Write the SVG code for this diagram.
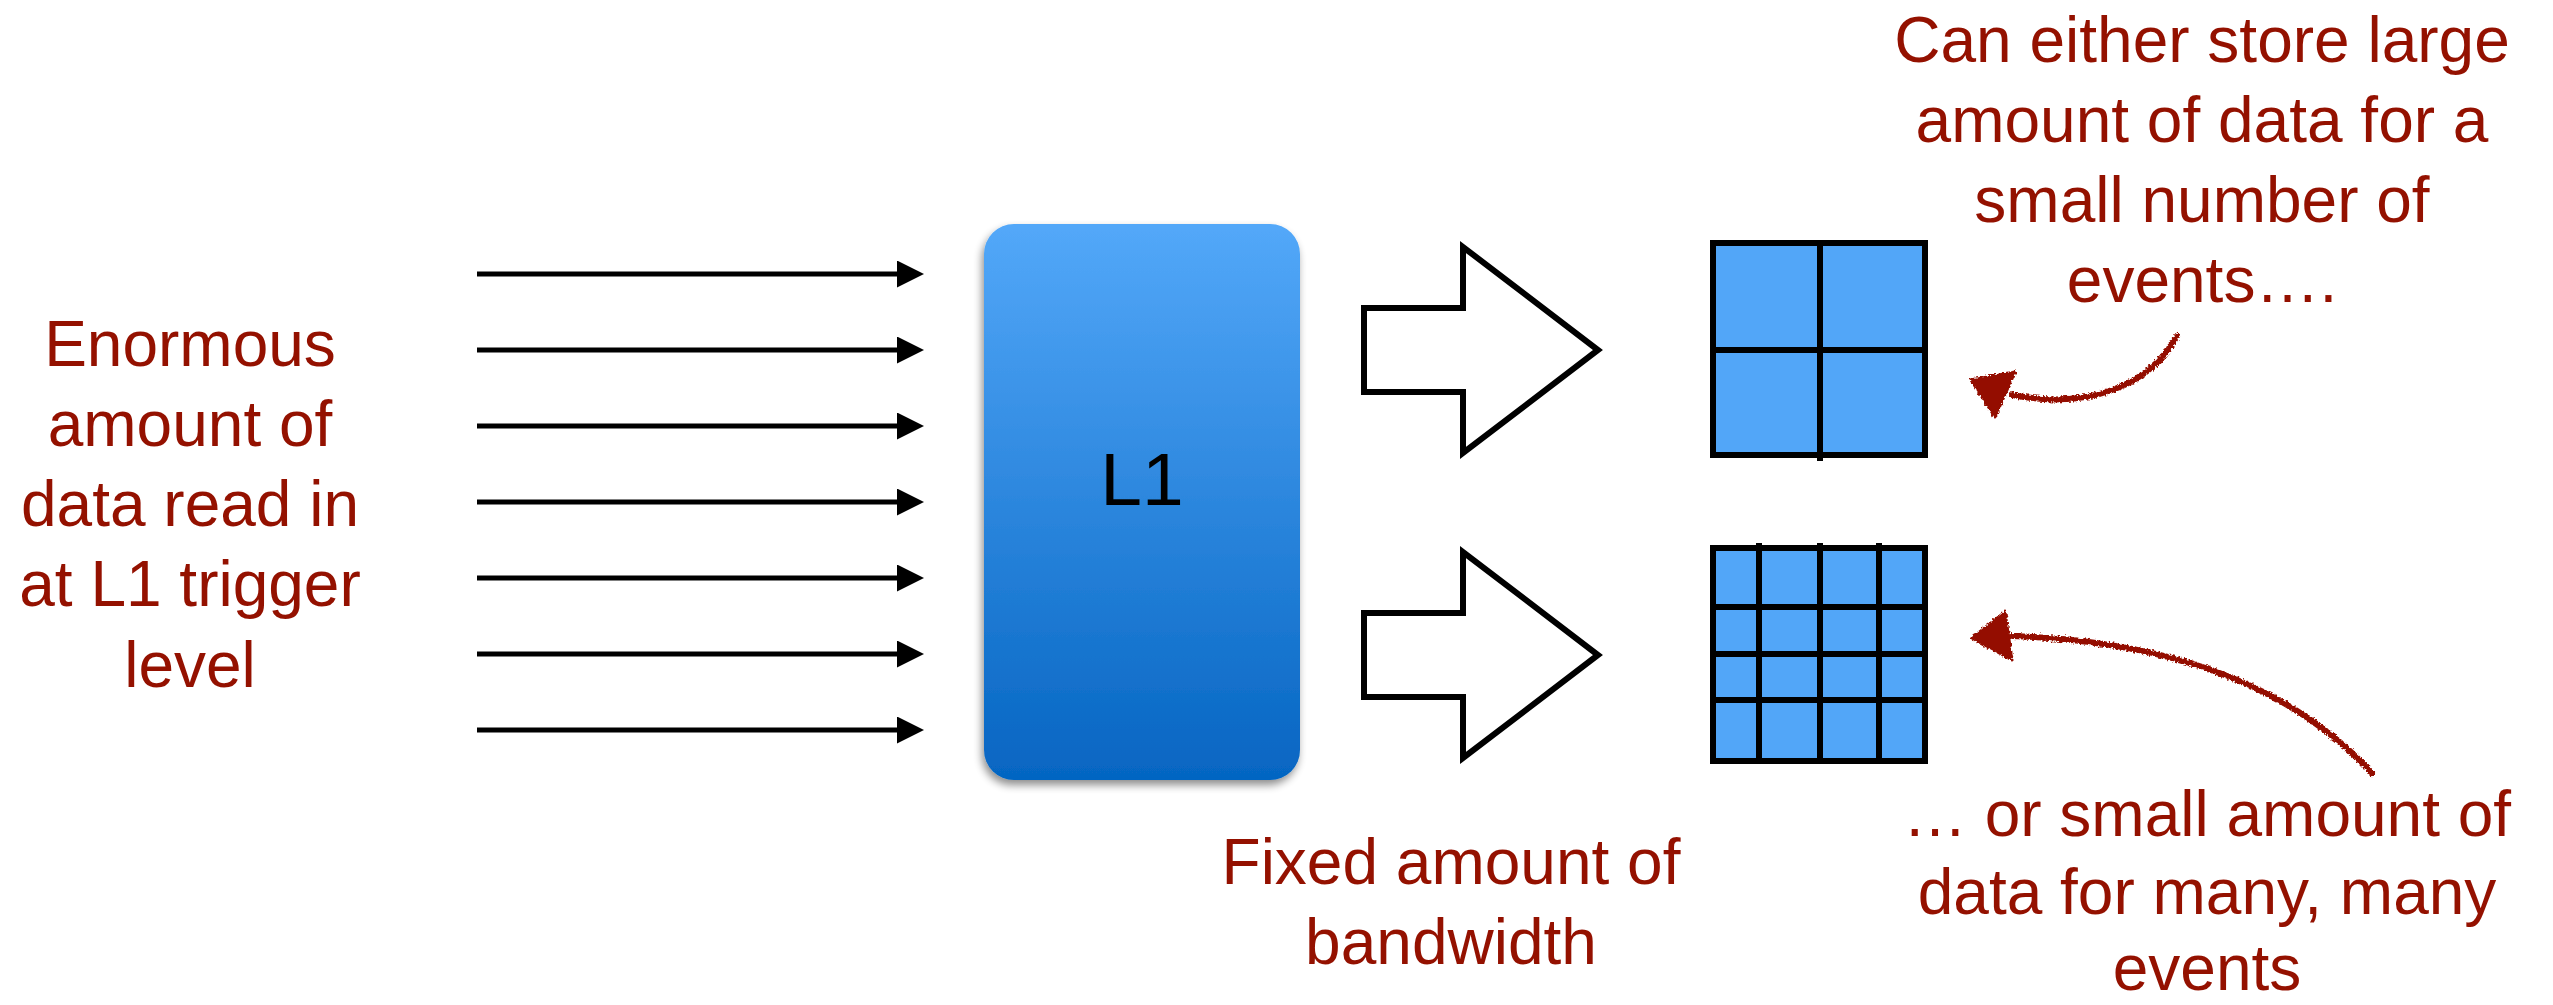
<svg xmlns="http://www.w3.org/2000/svg" width="2553" height="1005" viewBox="0 0 2553 1005">
  <defs>
    <linearGradient id="l1Fill" x1="0" y1="0" x2="0" y2="1">
      <stop offset="0" stop-color="#53A8F9"/>
      <stop offset="1" stop-color="#0565C2"/>
    </linearGradient>
    <filter id="softShadow" x="-10%" y="-10%" width="120%" height="120%">
      <feGaussianBlur in="SourceAlpha" stdDeviation="4"/>
      <feOffset dx="-2" dy="5" result="blur"/>
      <feComponentTransfer><feFuncA type="linear" slope="0.45"/></feComponentTransfer>
      <feMerge><feMergeNode/><feMergeNode in="SourceGraphic"/></feMerge>
    </filter>
    <filter id="chalk" x="-10%" y="-10%" width="120%" height="120%">
      <feTurbulence type="fractalNoise" baseFrequency="0.45" numOctaves="2" seed="3" result="noise"/>
      <feDisplacementMap in="SourceGraphic" in2="noise" scale="5" xChannelSelector="R" yChannelSelector="G"/>
    </filter>
    <marker id="head" viewBox="0 0 27 27" refX="0" refY="13.5" markerWidth="27" markerHeight="27" markerUnits="userSpaceOnUse" orient="auto">
      <path d="M0,0 L27,13.5 L0,27 Z" fill="#000"/>
    </marker>
  </defs>
  <style>
    .note { font-family: "Liberation Sans", Arial, sans-serif; font-size: 64px; fill: #941100; text-anchor: middle; }
    .label { font-family: "Liberation Sans", Arial, sans-serif; font-size: 75px; fill: #000; text-anchor: middle; }
    .feed { stroke: #000; stroke-width: 5; fill: none; marker-end: url(#head); }
    .block { fill: #fff; stroke: #000; stroke-width: 6; stroke-linejoin: miter; }
    .cell { fill: #52A6F8; stroke: #000; stroke-width: 6; }
    .div { stroke: #000; stroke-width: 6; }
    .hand { fill: none; stroke: #941100; stroke-width: 6; stroke-linecap: round; }
    .handHead { fill: #941100; stroke: #941100; stroke-width: 3; stroke-linejoin: round; }
  </style>

  <rect width="2553" height="1005" fill="#fff"/>

  <!-- input text -->
  <g id="input-text">
    <text class="note" x="190" y="366">Enormous</text>
    <text class="note" x="190" y="446">amount of</text>
    <text class="note" x="190" y="526">data read in</text>
    <text class="note" x="190" y="606">at L1 trigger</text>
    <text class="note" x="190" y="687">level</text>
  </g>

  <!-- connectors -->
  <g id="connectors">
    <g id="feeds">
      <line class="feed" x1="477" y1="274" x2="897" y2="274"/>
      <line class="feed" x1="477" y1="350" x2="897" y2="350"/>
      <line class="feed" x1="477" y1="426" x2="897" y2="426"/>
      <line class="feed" x1="477" y1="502" x2="897" y2="502"/>
      <line class="feed" x1="477" y1="578" x2="897" y2="578"/>
      <line class="feed" x1="477" y1="654" x2="897" y2="654"/>
      <line class="feed" x1="477" y1="730" x2="897" y2="730"/>
    </g>
    <g id="bandwidth-arrows">
      <polygon class="block" points="1364,308 1463,308 1463,247 1598,350 1463,453 1463,392 1364,392"/>
      <polygon class="block" points="1364,308 1463,308 1463,247 1598,350 1463,453 1463,392 1364,392" transform="translate(0,305)"/>
    </g>
    <g id="hand-arrows" filter="url(#chalk)">
      <path class="hand" d="M2177,336 C2150,385 2090,410 2012,395"/>
      <polygon class="handHead" points="1971,380 2015,372 1995,417"/>
      <path class="hand" d="M2372,773 C2305,700 2195,642 2012,636"/>
      <polygon class="handHead" points="1972,638 2005,612 2012,660"/>
    </g>
  </g>

  <!-- L1 trigger block -->
  <g id="l1">
    <rect x="984" y="224" width="316" height="556" rx="30" ry="30" fill="url(#l1Fill)" filter="url(#softShadow)"/>
    <text class="label" x="1142" y="505">L1</text>
  </g>

  <!-- coarse buffer: few large events -->
  <g id="coarse-grid">
    <rect class="cell" x="1713" y="243" width="212" height="212"/>
    <line class="div" x1="1820" y1="243" x2="1820" y2="461"/>
    <line class="div" x1="1713" y1="350" x2="1925" y2="350"/>
  </g>

  <!-- fine buffer: many small events -->
  <g id="fine-grid">
    <rect class="cell" x="1713" y="548" width="212" height="213"/>
    <line class="div" x1="1759" y1="543" x2="1759" y2="761"/>
    <line class="div" x1="1820" y1="543" x2="1820" y2="761"/>
    <line class="div" x1="1879" y1="543" x2="1879" y2="761"/>
    <line class="div" x1="1713" y1="607" x2="1925" y2="607"/>
    <line class="div" x1="1713" y1="654" x2="1925" y2="654"/>
    <line class="div" x1="1713" y1="700" x2="1925" y2="700"/>
  </g>

  <!-- annotations -->
  <g id="bandwidth-text">
    <text class="note" x="1451" y="884">Fixed amount of</text>
    <text class="note" x="1451" y="964">bandwidth</text>
  </g>
  <g id="coarse-text">
    <text class="note" x="2202" y="62">Can either store large</text>
    <text class="note" x="2202" y="142">amount of data for a</text>
    <text class="note" x="2202" y="222">small number of</text>
    <text class="note" x="2202" y="302">events….</text>
  </g>
  <g id="fine-text">
    <text class="note" x="2207" y="836">… or small amount of</text>
    <text class="note" x="2207" y="914">data for many, many</text>
    <text class="note" x="2207" y="990">events</text>
  </g>
</svg>
